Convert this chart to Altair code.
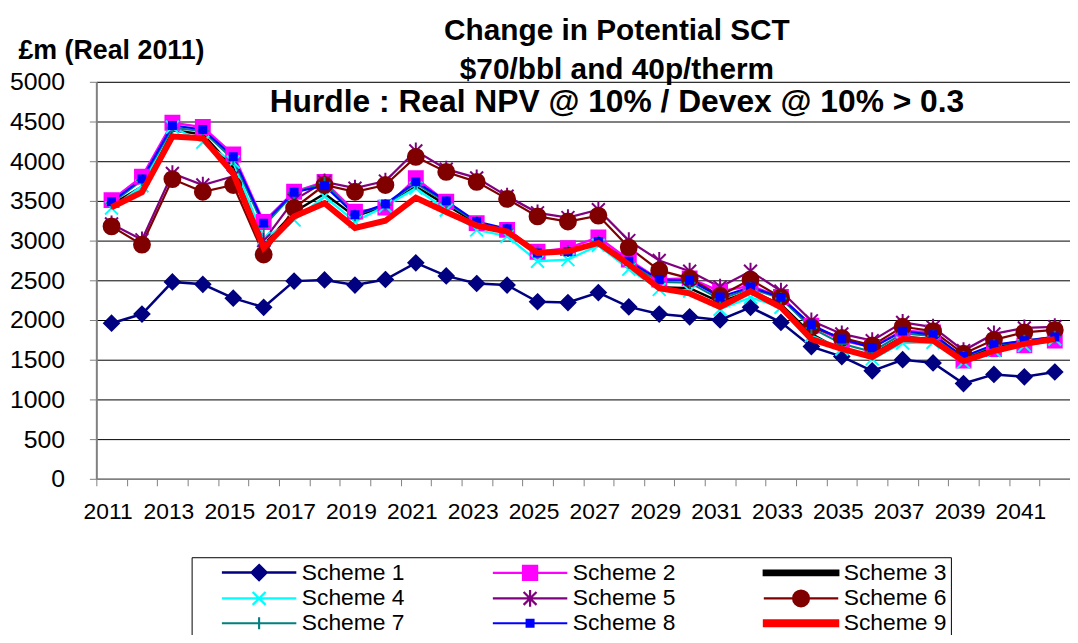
import altair as alt
import pandas as pd

years = list(range(2011, 2043))
series = [f"Scheme {i}" for i in range(1, 10)]

s1 = [1960, 2075, 2480, 2450, 2275, 2160, 2490, 2505, 2440, 2510, 2720, 2555, 2460, 2440, 2230, 2220,
      2345, 2165, 2075, 2040, 2000, 2160, 1970, 1665, 1540, 1360, 1500, 1460, 1200, 1315, 1285, 1345]
s2 = [3510, 3805, 4485, 4430, 4085, 3235, 3615, 3740, 3365, 3415, 3785, 3490, 3220, 3135, 2860, 2905,
      3040, 2760, 2510, 2525, 2360, 2430, 2290, 1930, 1740, 1660, 1865, 1845, 1490, 1635, 1680, 1740]
s3 = [3450, 3680, 4390, 4340, 3920, 2950, 3360, 3590, 3305, 3435, 3680, 3450, 3220, 3135, 2845, 2845,
      2970, 2700, 2415, 2400, 2225, 2365, 2200, 1825, 1615, 1565, 1790, 1760, 1510, 1660, 1720, 1790]
s4 = [3410, 3690, 4430, 4240, 3990, 3030, 3260, 3555, 3240, 3435, 3660, 3385, 3135, 3055, 2740, 2760,
      2940, 2640, 2385, 2365, 2135, 2285, 2160, 1805, 1635, 1510, 1710, 1720, 1470, 1615, 1680, 1760]
s5 = [3210, 3010, 3845, 3700, 3810, 3000, 3510, 3740, 3660, 3750, 4130, 3900, 3790, 3560, 3350, 3290,
      3390, 3000, 2750, 2615, 2415, 2615, 2365, 1990, 1825, 1740, 1970, 1910, 1615, 1825, 1900, 1915]
s6 = [3180, 2950, 3775, 3615, 3700, 2825, 3410, 3700, 3615, 3700, 4055, 3865, 3740, 3525, 3305, 3240,
      3315, 2915, 2625, 2525, 2305, 2510, 2285, 1910, 1775, 1680, 1915, 1860, 1575, 1750, 1845, 1875]
s7 = [3470, 3760, 4420, 4380, 4020, 3180, 3600, 3730, 3320, 3450, 3720, 3480, 3230, 3140, 2850, 2870,
      2990, 2720, 2480, 2470, 2260, 2400, 2270, 1900, 1700, 1600, 1830, 1800, 1530, 1680, 1740, 1790]
s8 = [3490, 3775, 4450, 4400, 4055, 3220, 3610, 3690, 3325, 3460, 3740, 3500, 3240, 3150, 2845, 2860,
      2990, 2740, 2510, 2500, 2290, 2415, 2285, 1940, 1760, 1650, 1860, 1815, 1540, 1690, 1740, 1785]
s9 = [3420, 3610, 4310, 4290, 3845, 2910, 3305, 3470, 3160, 3250, 3540, 3360, 3190, 3115, 2845, 2865,
      2970, 2700, 2400, 2335, 2165, 2360, 2160, 1760, 1635, 1535, 1760, 1740, 1480, 1610, 1700, 1760]
y_ticks = [0, 500, 1000, 1500, 2000, 2500, 3000, 3500, 4000, 4500, 5000]

values = [s1, s2, s3, s4, s5, s6, s7, s8, s9]

rows = []
for name, vals in zip(series, values):
    for yr, v in zip(years, vals):
        rows.append({"year": yr, "series": name, "value": v})
df = pd.DataFrame(rows)

# ---- styles ----
colors = ["#000080", "#FF00FF", "#000000", "#00FFFF", "#800080",
          "#800000", "#008080", "#0000FF", "#FF0000"]
line_widths = [2.5, 2, 4.5, 2, 2, 2.5, 2, 3, 6]
marker_kind = ["diamond", "square", None, "x", "asterisk", "circle", "plus", "square", None]
marker_half = [7.5, 7, 0, 6.5, 6.5, 8, 6, 3.5, 0]


def marker_path(kind, c, h):
    def f(v):
        return f"{round(v, 3)}"
    if kind == "diamond":
        return f"M{f(c)},{f(-h)}L{f(c + h)},0L{f(c)},{f(h)}L{f(c - h)},0Z"
    if kind == "square":
        return f"M{f(c - h)},{f(-h)}H{f(c + h)}V{f(h)}H{f(c - h)}Z"
    if kind == "x":
        return f"M{f(c - h)},{f(-h)}L{f(c + h)},{f(h)}M{f(c - h)},{f(h)}L{f(c + h)},{f(-h)}"
    if kind == "asterisk":
        return (f"M{f(c - h)},{f(-h)}L{f(c + h)},{f(h)}M{f(c - h)},{f(h)}L{f(c + h)},{f(-h)}"
                f"M{f(c)},{f(-1.3 * h)}V{f(1.3 * h)}")
    if kind == "circle":
        return f"M{f(c + h)},0A{f(h)},{f(h)},0,1,1,{f(c - h)},0A{f(h)},{f(h)},0,1,1,{f(c + h)},0Z"
    if kind == "plus":
        return f"M{f(c - h)},0H{f(c + h)}M{f(c)},{f(-h)}V{f(h)}"
    return ""


# legend symbols: unit = 10px (symbolSize 400); line + marker, thick bar for plain series
la, lb = 1.5, 9.0
lc = (la + lb) / 2
legend_paths = []
for k, h, w in zip(marker_kind, marker_half, line_widths):
    if k:
        p = f"M{la},0H{lb}" + marker_path(k, lc, h / 10.0)
    else:
        t = w / 20.0
        p = f"M{la},{-t}H{lb}V{t}H{la}Z"
    legend_paths.append(p)

FONT = "Liberation Sans"

legend = alt.Legend(
    orient="none", legendX=96, legendY=479, columns=3, direction="horizontal", title=None,
    symbolSize=400, symbolStrokeWidth=2.5, labelOffset=84, columnPadding=62, rowPadding=0,
    padding=4, strokeColor="#000000", fillColor="white", symbolOpacity=1,
    labelFont=FONT, labelFontSize=23, labelColor="black", labelLimit=300,
)

x_enc = alt.X(
    "year:O", bandPosition=0.5,
    scale=alt.Scale(type="band", paddingInner=0, paddingOuter=0),
    axis=alt.Axis(title=None, labelAngle=0, tickBand="extent", grid=False,
                  labelExpr="datum.value % 2 == 1 ? datum.label : ''",
                  labelFont=FONT, labelFontSize=23, labelColor="black",
                  labelPadding=15, labelOffset=-4, labelOverlap=False, labelBaseline="top",
                  tickSize=7, tickColor="#808080", domainColor="#808080", domainWidth=1.5),
)
y_enc = alt.Y(
    "value:Q", scale=alt.Scale(domain=[0, 5000]),
    axis=alt.Axis(values=y_ticks, format="d", title="£m (Real 2011)", titleAngle=0, titleAlign="left",
                  titleX=-79, titleY=-31, titleBaseline="middle", titleFont=FONT,
                  titleFontSize=27, titleFontWeight="bold", titleColor="black",
                  labelFont=FONT, labelFontSize=25, labelColor="black", labelPadding=25,
                  tickSize=7, tickColor="#808080", domainColor="#808080", domainWidth=2,
                  gridColor="#000000", gridWidth=1),
)

color_scale = alt.Scale(domain=series, range=colors)
width_scale = alt.Scale(domain=series, range=line_widths)

base = alt.Chart(df)

lines = base.mark_line(strokeJoin="miter").encode(
    x=x_enc, y=y_enc,
    color=alt.Color("series:N", scale=color_scale, legend=legend),
    strokeWidth=alt.StrokeWidth("series:N", scale=width_scale, legend=None),
    order=alt.Order("year:O"),
)

layers = [lines]
for name, kind, h, col in zip(series, marker_kind, marker_half, colors):
    if not kind:
        continue
    layers.append(
        base.transform_filter(f"datum.series == '{name}'").mark_point(
            shape=marker_path(kind, 0, 1), size=(2 * h) ** 2,
            fill=col, stroke=col, strokeWidth=2, opacity=1,
        ).encode(x=x_enc, y=y_enc)
    )

top_red = base.transform_filter("datum.series == 'Scheme 9'").mark_line(
    color="#FF0000", strokeWidth=6, strokeJoin="miter"
).encode(x=x_enc, y=y_enc, order=alt.Order("year:O"))
layers.append(top_red)

# invisible layer that only contributes the line+marker legend symbols
legend_layer = base.mark_point(filled=True, opacity=0).encode(
    x=x_enc, y=y_enc,
    fill=alt.Fill("series:N", scale=color_scale, legend=legend),
    stroke=alt.Stroke("series:N", scale=color_scale, legend=legend),
    shape=alt.Shape("series:N", scale=alt.Scale(domain=series, range=legend_paths), legend=legend),
)
layers.append(legend_layer)

chart = alt.layer(*layers).properties(
    width=981, height=400,
    autosize=alt.AutoSizeParams(type="none"),
    padding={"left": 89, "top": 72, "right": 0, "bottom": 155},
    title=alt.TitleParams(
        text=["Change in Potential SCT", "$70/bbl and 40p/therm"],
        subtitle="Hurdle : Real NPV @ 10% / Devex @ 10% > 0.3",
        font=FONT, fontSize=30, fontWeight="bold", color="black", lineHeight=39,
        subtitleFont=FONT, subtitleFontSize=32, subtitleFontWeight="bold",
        subtitleColor="black", subtitleLineHeight=38, subtitlePadding=2,
        anchor="middle", frame="group", dx=34, offset=-81,
    ),
).configure_view(stroke=None).configure(background="white")

chart.save("out.html", embed_options={"renderer": "svg", "actions": False})
